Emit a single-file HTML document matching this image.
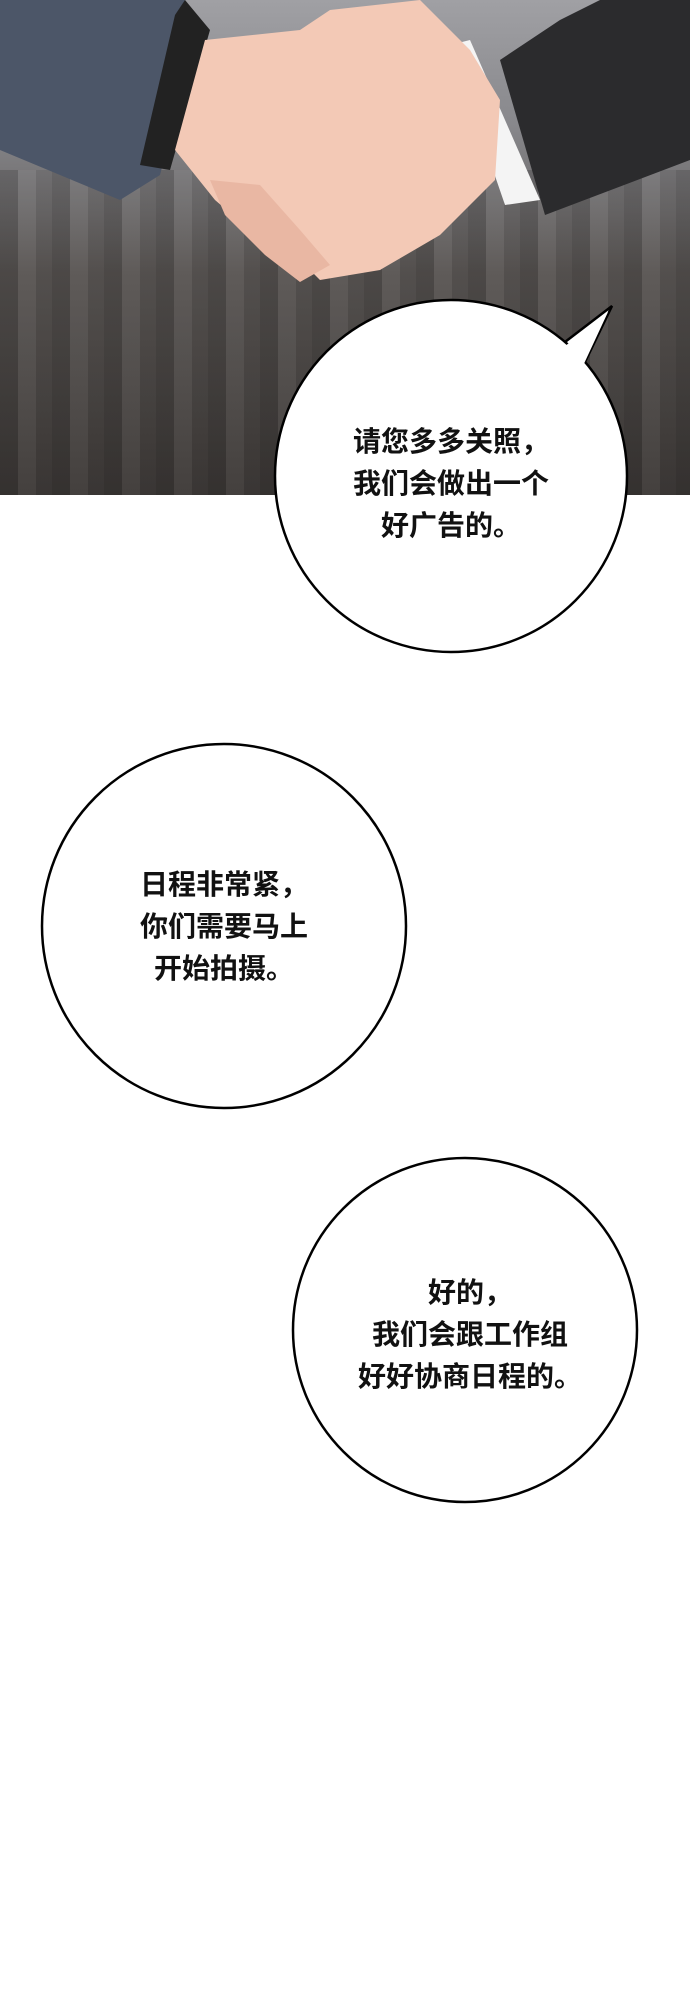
<!DOCTYPE html>
<html><head><meta charset="utf-8">
<style>
html,body{margin:0;padding:0;background:#fff;}
body{width:690px;height:2000px;position:relative;overflow:hidden;font-family:"Liberation Sans","Noto Sans CJK SC",sans-serif;}
.photo{position:absolute;left:0;top:0;width:690px;height:495px;overflow:hidden;
background:linear-gradient(180deg,#a0a0a4 0%,#88888c 25%,#5a5654 55%,#3e3a38 100%);}
.stripes{position:absolute;left:0;top:170px;width:690px;height:325px;
background:repeating-linear-gradient(90deg,rgba(0,0,0,0.16) 0 18px,rgba(255,255,255,0.03) 18px 36px,rgba(0,0,0,0.08) 36px 52px);}
.txt{position:absolute;font-size:28px;font-weight:bold;color:#111;text-align:center;line-height:42px;white-space:nowrap;}
</style></head><body>
<div class="photo">
 <div class="stripes"></div>
 <svg width="690" height="495" style="position:absolute;left:0;top:0">
  <path d="M0,0 L185,0 L200,20 L160,175 L120,200 L0,150 Z" fill="#4c5668"/>
  <path d="M185,0 L210,30 L170,170 L140,165 L175,15 Z" fill="#222"/>
  <path d="M690,0 L690,160 L545,215 L500,60 L560,20 L600,0 Z" fill="#2b2b2d"/>
  <path d="M450,45 L470,40 L540,200 L505,205 Z" fill="#f4f4f4"/>
  <path d="M205,40 L300,30 L330,10 L420,0 L470,50 L500,100 L495,180 L440,235 L380,270 L320,280 L290,250 L250,230 L215,200 L175,150 Z" fill="#f3c9b6"/>
  <path d="M210,180 L260,185 L300,230 L330,265 L300,282 L265,255 L225,215 Z" fill="#e9b7a3"/>
 </svg>
</div>
<svg width="690" height="2000" style="position:absolute;left:0;top:0">
 <path d="M548,355 L612,306 L585,362 Z" fill="#fff" stroke="#000" stroke-width="2.5" stroke-linejoin="miter"/>
 <g fill="#fff" stroke="#000" stroke-width="2.5">
  <circle cx="451" cy="476" r="176"/>
  <circle cx="224" cy="926" r="182"/>
  <circle cx="465" cy="1330" r="172"/>
 </g>
 <path d="M545,362 L608,312 L582,368 Z" fill="#fff"/>
</svg>
<div class="txt" style="left:451px;top:421px;transform:translateX(-50%)">请您多多关照，<br>我们会做出一个<br>好广告的。</div>
<div class="txt" style="left:224px;top:864px;transform:translateX(-50%)">日程非常紧，<br>你们需要马上<br>开始拍摄。</div>
<div class="txt" style="left:470px;top:1272px;transform:translateX(-50%)">好的，<br>我们会跟工作组<br>好好协商日程的。</div>
</body></html>
